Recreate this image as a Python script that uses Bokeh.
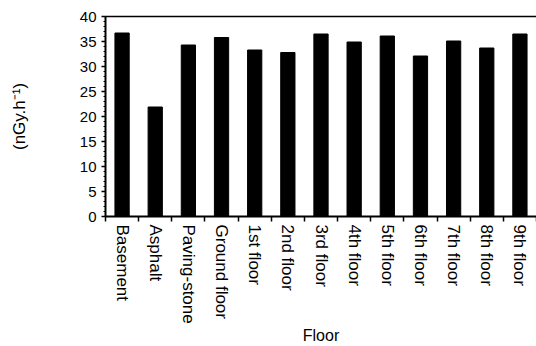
from bokeh.plotting import figure
from bokeh.models import FixedTicker, LinearAxis, Range1d
from bokeh.embed import file_html
from bokeh.resources import INLINE

categories = ["Basement", "Asphalt", "Paving-stone", "Ground floor", "1st floor",
              "2nd floor", "3rd floor", "4th floor", "5th floor", "6th floor",
              "7th floor", "8th floor", "9th floor"]
dose_rate = [36.7, 21.9, 34.3, 35.8, 33.3, 32.8, 36.5, 34.9, 36.1, 32.1, 35.1, 33.7, 36.5]
y_ticks = [0, 5, 10, 15, 20, 25, 30, 35, 40]

FONT = "Liberation Sans"

centers = [i + 0.5 for i in range(len(categories))]
bounds = [float(i) for i in range(len(categories) + 1)]

p = figure(width=536, height=346, output_backend="svg", toolbar_location=None,
           x_range=Range1d(0, len(categories)), y_range=Range1d(0, 40),
           min_border_left=105, min_border_right=0, min_border_top=16, min_border_bottom=0)
p.outline_line_color = None
p.xgrid.visible = False
p.ygrid.visible = False

p.vbar(x=centers, top=dose_rate, width=0.43, color="black")

xa = p.xaxis[0]
xa.ticker = FixedTicker(ticks=centers, minor_ticks=bounds)
xa.major_label_overrides = {c: n for c, n in zip(centers, categories)}
xa.major_label_orientation = "vertical"
xa.major_tick_out = 0
xa.major_tick_in = 0
xa.minor_tick_out = 5
xa.minor_tick_in = 0
xa.minor_tick_line_color = "black"
xa.minor_tick_line_width = 1.5
xa.axis_line_width = 2
xa.axis_line_color = "black"
xa.major_label_text_font = FONT
xa.major_label_text_font_size = "17px"
xa.major_label_text_color = "black"
xa.major_label_standoff = 3
xa.axis_label = "Floor"
xa.axis_label_text_font = FONT
xa.axis_label_text_font_size = "16px"
xa.axis_label_text_font_style = "normal"
xa.axis_label_text_color = "black"
xa.axis_label_standoff = 0

ya = p.yaxis[0]
ya.ticker = FixedTicker(ticks=y_ticks, minor_ticks=list(range(0, 41)))
ya.major_tick_out = 4
ya.major_tick_in = 0
ya.minor_tick_out = 2
ya.minor_tick_in = 0
ya.major_tick_line_width = 1.5
ya.minor_tick_line_color = "black"
ya.axis_line_width = 2
ya.axis_line_color = "black"
ya.major_label_text_font = FONT
ya.major_label_text_font_size = "15px"
ya.major_label_text_color = "black"
ya.major_label_standoff = 5
ya.axis_label = "(nGy.h\u207b\u00b9)"
ya.axis_label_text_font = FONT
ya.axis_label_text_font_size = "17px"
ya.axis_label_text_font_style = "normal"
ya.axis_label_text_color = "black"
ya.axis_label_standoff = 48

top_axis = LinearAxis(ticker=FixedTicker(ticks=[]), major_label_text_font_size="0px",
                      axis_line_width=1.5, axis_line_color="black",
                      major_tick_out=0, minor_tick_out=0)
p.add_layout(top_axis, "above")

open("out.html", "w").write(file_html(p, INLINE))
